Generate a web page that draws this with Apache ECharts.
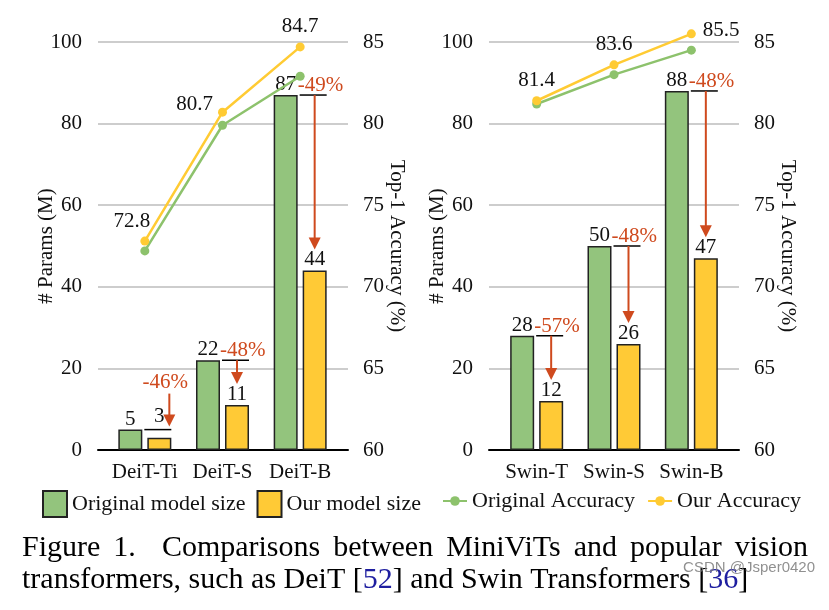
<!DOCTYPE html>
<html>
<head>
<meta charset="utf-8">
<script src="https://cdn.jsdelivr.net/npm/echarts@6/dist/echarts.min.js"></script>
<style>
html,body{margin:0;padding:0;background:#fff;}
#chart{width:829px;height:610px;}
</style>
</head>
<body>
<div id="chart"></div>
<script>
// ---------- data ----------
const catsDeit = ['DeiT-Ti', 'DeiT-S', 'DeiT-B'];
const origSizeDeit = [5, 22, 87];
const ourSizeDeit = [3, 11, 44];
const origAccDeit = [72.2, 79.9, 82.9];
const ourAccDeit = [72.8, 80.7, 84.7];
const reduceDeit = ['-46%', '-48%', '-49%'];

const catsSwin = ['Swin-T', 'Swin-S', 'Swin-B'];
const origSizeSwin = [28, 50, 88];
const ourSizeSwin = [12, 26, 47];
const origAccSwin = [81.2, 83.0, 84.5];
const ourAccSwin = [81.4, 83.6, 85.5];
const reduceSwin = ['-57%', '-48%', '-48%'];

const paramTicks = [0, 20, 40, 60, 80, 100];
const accTicks = [60, 65, 70, 75, 80, 85];

const legendBars = ['Original model size', 'Our model size'];
const legendLines = ['Original Accuracy', 'Our Accuracy'];

const caption1 = ['Figure', '1.', 'Comparisons', 'between', 'MiniViTs', 'and', 'popular', 'vision'];
const caption2 = [['transformers, such as DeiT [', 0], ['52', 1], ['] and Swin Transformers [', 0], ['36', 1], [']', 0]];
const watermark = 'CSDN @Jsper0420';

// ---------- styles ----------
const SERIF = '"Liberation Serif", "Times New Roman", serif';
const GREEN = '#93C47D';
const YELLOW = '#FFCA36';
const LGREEN = '#8DC26C';
const LYELLOW = '#FFCB33';
const RED = '#CF4A1E';
const BLUE = '#1E1EA0';
const TXT = '#111';
const BAR_W = 24;
const BAR_GAP = 5;

function annoRenderer(labels) {
  return function (params, api) {
    const i = api.value(0);
    const pO = api.coord([i, api.value(1)]);
    const pU = api.coord([i, api.value(2)]);
    const yc = pO[0] + (BAR_W + BAR_GAP) / 2;
    const yl = yc - BAR_W / 2, yr = yc + BAR_W / 2;
    const lineY = pO[1];
    const ourTop = pU[1];
    const txt = labels[params.dataIndex];
    const children = [{
      type: 'line',
      shape: { x1: yl - 3, y1: lineY, x2: yr, y2: lineY },
      style: { stroke: '#000', lineWidth: 1.5 }
    }];
    let ax, y1, y2, tx, ty, ta;
    if (ourTop - lineY > 25) {
      ax = yc; y1 = lineY; y2 = ourTop - 21;
      tx = yl - 5; ty = lineY + 1; ta = 'left';
    } else {
      ax = yr - 2; y2 = lineY - 3; y1 = y2 - 33;
      tx = ax - 4; ty = y1 - 1; ta = 'center';
    }
    children.push({
      type: 'line',
      shape: { x1: ax, y1: y1, x2: ax, y2: y2 - 10 },
      style: { stroke: RED, lineWidth: 2 }
    });
    children.push({
      type: 'polygon',
      shape: { points: [[ax - 6, y2 - 12], [ax + 6, y2 - 12], [ax, y2]] },
      style: { fill: RED }
    });
    children.push({
      type: 'text',
      style: {
        text: txt, x: tx, y: ty, fill: RED,
        font: '21px ' + SERIF,
        align: ta, verticalAlign: 'bottom',
        textAlign: ta, textVerticalAlign: 'bottom'
      }
    });
    return { type: 'group', children: children };
  };
}

const tickFont = { fontSize: 21, fontFamily: SERIF, color: TXT };

function panelAxes(gWide, gBar, cats) {
  const xs = [
    { gridIndex: gWide, type: 'value', min: 0, max: 1,
      axisLine: { show: true, onZero: false, lineStyle: { color: '#000', width: 2 } },
      axisTick: { show: false }, axisLabel: { show: false }, splitLine: { show: false } },
    { gridIndex: gBar, type: 'category', data: cats,
      axisLine: { show: false }, axisTick: { show: false },
      axisLabel: Object.assign({ margin: 12, interval: 0 }, tickFont) }
  ];
  const ys = [
    { gridIndex: gWide, type: 'value', position: 'left',
      min: paramTicks[0], max: paramTicks[paramTicks.length - 1], interval: paramTicks[1] - paramTicks[0],
      axisLine: { show: false }, axisTick: { show: false },
      axisLabel: Object.assign({ margin: 16 }, tickFont),
      splitLine: { show: true, lineStyle: { color: '#BDBDBD', width: 1.5 } },
      name: '# Params (M)', nameLocation: 'middle', nameRotate: 90, nameGap: 41,
      nameMoveOverlap: false,
      nameTextStyle: tickFont },
    { gridIndex: gWide, type: 'value', position: 'right',
      min: accTicks[0], max: accTicks[accTicks.length - 1], interval: accTicks[1] - accTicks[0],
      axisLine: { show: false }, axisTick: { show: false },
      axisLabel: Object.assign({ margin: 15 }, tickFont),
      splitLine: { show: false },
      name: 'Top-1 Accuracy (%)', nameLocation: 'middle', nameRotate: -90, nameGap: 38,
      nameMoveOverlap: false,
      nameTextStyle: tickFont },
    { gridIndex: gBar, type: 'value', show: false,
      min: paramTicks[0], max: paramTicks[paramTicks.length - 1], splitLine: { show: false } },
    { gridIndex: gBar, type: 'value', show: false,
      min: accTicks[0], max: accTicks[accTicks.length - 1], splitLine: { show: false } }
  ];
  return { xs, ys };
}

function panelSeries(xIdx, yBar, yAcc, cats, origS, ourS, origA, ourA, reduce, labelPlace) {
  const barLabel = { show: true, position: 'top', distance: 0, fontSize: 21, fontFamily: SERIF, color: TXT };
  return [
    { type: 'bar', name: legendBars[0], xAxisIndex: xIdx, yAxisIndex: yBar, data: origS,
      barWidth: BAR_W, barGap: (BAR_GAP / BAR_W * 100) + '%',
      itemStyle: { color: GREEN, borderColor: '#222', borderWidth: 1.5 }, label: barLabel },
    { type: 'bar', name: legendBars[1], xAxisIndex: xIdx, yAxisIndex: yBar,
      // lift the label above the reference line when the two bars are nearly equal
      data: ourS.map((v, i) => (origS[i] - v < 5 ? { value: v, label: { distance: 11 } } : v)),
      barWidth: BAR_W, barGap: (BAR_GAP / BAR_W * 100) + '%',
      itemStyle: { color: YELLOW, borderColor: '#222', borderWidth: 1.5 }, label: barLabel },
    { type: 'line', name: legendLines[0], xAxisIndex: xIdx, yAxisIndex: yAcc, data: origA,
      symbol: 'circle', symbolSize: 9, z: 4, clip: false,
      lineStyle: { color: LGREEN, width: 2.5 }, itemStyle: { color: LGREEN } },
    { type: 'line', name: legendLines[1], xAxisIndex: xIdx, yAxisIndex: yAcc,
      data: ourA.map((v, i) => ({ value: v, label: labelPlace[i] })),
      symbol: 'circle', symbolSize: 9, z: 4, clip: false,
      lineStyle: { color: LYELLOW, width: 2.5 }, itemStyle: { color: LYELLOW },
      label: { show: true, position: 'top', distance: 5, fontSize: 21, fontFamily: SERIF, color: TXT } },
    { type: 'custom', xAxisIndex: xIdx, yAxisIndex: yBar, z: 6, silent: true, clip: false,
      data: cats.map((c, i) => [i, origS[i], ourS[i]]),
      renderItem: annoRenderer(reduce) }
  ];
}

const A = panelAxes(0, 1, catsDeit);
const B = panelAxes(2, 3, catsSwin);

// caption layout via text measurement
const mctx = document.createElement('canvas').getContext('2d');
const CAP_FONT = '30px ' + SERIF;
mctx.font = CAP_FONT;
const capLeft = 22, capRight = 808;
const widths = caption1.map(w => mctx.measureText(w).width);
const totalW = widths.reduce((a, b) => a + b, 0);
const weights = caption1.slice(0, -1).map((w, i) => (i === 1 ? 2 : 1));
const wsum = weights.reduce((a, b) => a + b, 0);
const unit = (capRight - capLeft - totalW) / wsum;
const graphics = [];
let cx = capLeft;
caption1.forEach((w, i) => {
  graphics.push({ type: 'text', x: cx, y: 548, silent: true,
    style: { text: w, font: CAP_FONT, fill: '#000', verticalAlign: 'middle', textVerticalAlign: 'middle' } });
  cx += widths[i] + (i < weights.length ? unit * weights[i] : 0);
});
cx = capLeft;
caption2.forEach(([t, blue]) => {
  graphics.push({ type: 'text', x: cx, y: 580, silent: true,
    style: { text: t, font: CAP_FONT, fill: blue ? BLUE : '#000', verticalAlign: 'middle', textVerticalAlign: 'middle' } });
  cx += mctx.measureText(t).width;
});
graphics.push({ type: 'text', x: 815, y: 568, silent: true, z: 10,
  style: { text: watermark, font: '15px "Liberation Sans", Arial, sans-serif', fill: 'rgba(125,125,125,0.85)',
    align: 'right', textAlign: 'right', verticalAlign: 'middle', textVerticalAlign: 'middle' } });

const placeDeit = [
  { position: 'top', offset: [-13, 0] },
  { position: 'left', offset: [0, -8] },
  { position: 'top' }
];
const placeSwin = [
  { position: 'top' },
  { position: 'top' },
  { position: 'right', offset: [2, -3] }
];

const option = {
  backgroundColor: '#fff',
  animation: false,
  grid: [
    { left: 98, top: 42, width: 250, height: 408 },
    { left: 106, top: 42, width: 233, height: 408 },
    { left: 489, top: 42, width: 250, height: 408 },
    { left: 498, top: 42, width: 232, height: 408 }
  ],
  xAxis: A.xs.concat(B.xs),
  yAxis: A.ys.concat(B.ys),
  legend: [
    { data: legendBars.map(n => ({ name: n, icon: 'rect' })), left: 42, top: 490, padding: 0,
      itemWidth: 24, itemHeight: 26, itemGap: 11,
      textStyle: { fontSize: 22, fontFamily: SERIF, color: TXT } },
    { data: legendLines, left: 442, top: 490, padding: 0, itemWidth: 24, itemHeight: 12, itemGap: 12,
      textStyle: { fontSize: 22, fontFamily: SERIF, color: TXT } }
  ],
  series: panelSeries(1, 2, 3, catsDeit, origSizeDeit, ourSizeDeit, origAccDeit, ourAccDeit, reduceDeit, placeDeit)
    .concat(panelSeries(3, 6, 7, catsSwin, origSizeSwin, ourSizeSwin, origAccSwin, ourAccSwin, reduceSwin, placeSwin)),
  graphic: graphics
};

const chart = echarts.init(document.getElementById('chart'), null, { renderer: 'canvas' });
chart.setOption(option);
</script>
</body>
</html>
